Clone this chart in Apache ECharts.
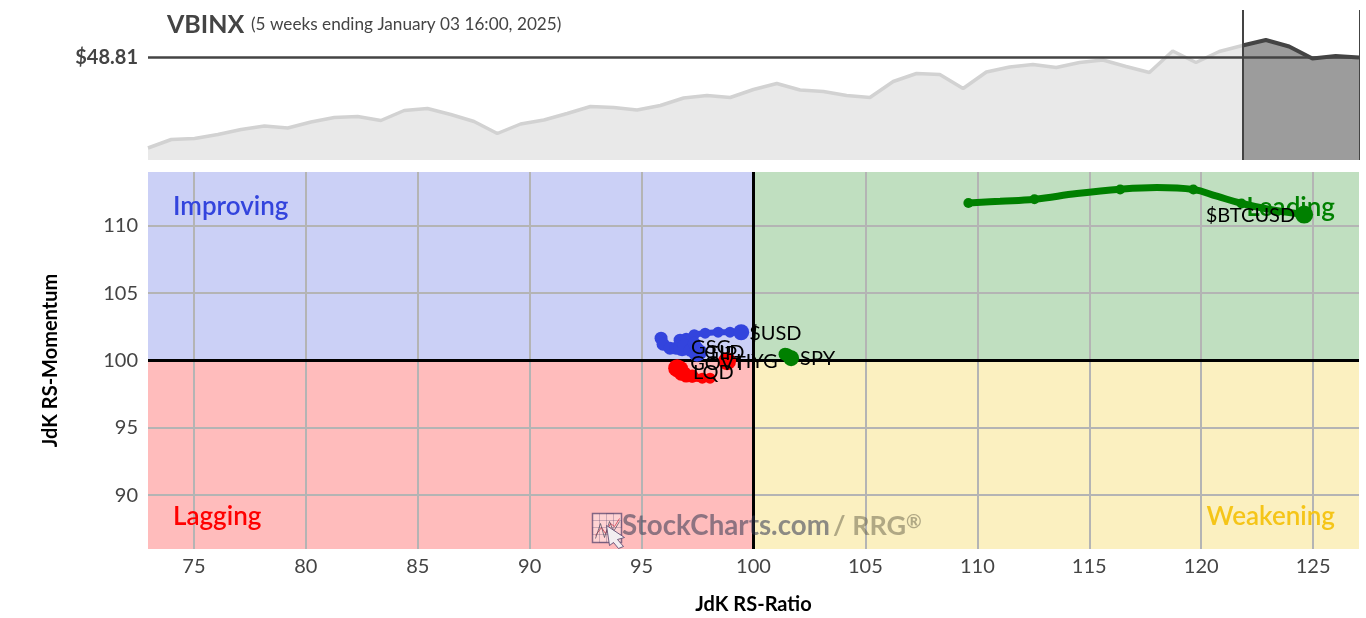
<!DOCTYPE html>
<html><head><meta charset="utf-8">
<style>html,body{margin:0;padding:0;background:#fff}#c{width:1366px;height:618px}</style>
<script src="https://cdn.jsdelivr.net/npm/echarts@6/dist/echarts.min.js"></script>
</head><body><div id="c"></div>
<script>
const priceValues = [47.00,47.17,47.19,47.27,47.37,47.44,47.40,47.52,47.61,47.63,47.55,47.75,47.79,47.67,47.53,47.29,47.48,47.56,47.69,47.83,47.81,47.76,47.85,48.00,48.05,48.01,48.17,48.29,48.16,48.13,48.05,48.01,48.33,48.49,48.47,48.19,48.52,48.62,48.67,48.61,48.71,48.76,48.63,48.51,48.94,48.71,48.93,49.05,49.16,49.03,48.79,48.84,48.81];
const lastPrice = 48.81;
const tailStartIndex = 47;
const xTicks = [75,80,85,90,95,100,105,110,115,120,125];
const yTicks = [90,95,100,105,110];

const btcX = [109.60,112.55,116.38,119.65,121.80,124.60];
const btcY = [111.70,111.98,112.70,112.70,111.66,110.84];
const btcCurveX = [109.60,111.02,112.55,114.45,116.38,118.02,119.66,120.70,121.82,123.08,124.62];
const btcCurveY = [111.70,111.83,111.98,112.40,112.72,112.85,112.70,112.20,111.66,111.21,110.84];
const usdX = [96.99,97.35,97.84,98.42,98.95,99.45];
const usdY = [101.66,101.92,102.03,102.10,102.10,102.10];
const gsgX = [95.87,95.96,96.27,96.54,96.81];
const gsgY = [101.66,101.21,100.91,100.91,100.99];
const tipX = [96.72,96.90,97.17,97.48];
const tipY = [101.51,101.14,100.76,100.54];
const gldX = [97.35,97.48,97.60];
const gldY = [101.28,100.91,100.62];
const hygX = [98.72,98.82];
const hygY = [100.00,99.95];
const govX = [97.26,96.99,96.76,96.63,96.59];
const govY = [98.84,98.84,98.98,99.21,99.43];
const lqdX = [98.06,97.71,97.26,96.95,96.76];
const lqdY = [98.69,98.69,98.76,99.13,99.43];
const spyX = [101.41,101.50,101.59,101.68];
const spyY = [100.47,100.43,100.32,100.17];

const BLUE='#3344dd', RED='#ff0000', GREEN='#008000';
const font='Lato';
const XMIN=72.95,XMAX=127.05,YMIN=86,YMAX=114;

function trail(name,xs,ys,color,opt){
  opt=opt||{};
  const data=xs.map((x,i)=>{
    const last=i===xs.length-1;
    const item={value:[x,ys[i]],symbolSize:last?(opt.head||15):(opt.dot||12)};
    if(last) item.label={show:true,formatter:name,position:opt.pos||'right',distance:opt.dist==null?1:opt.dist,offset:opt.off||[0,0],color:'#000',fontFamily:font,fontSize:20};
    return item;
  });
  return {type:'line',name,xAxisIndex:1,yAxisIndex:1,z:6,smooth:opt.smooth||0.35,symbol:'circle',showSymbol:true,showAllSymbol:true,animation:false,
    lineStyle:{color,width:opt.w==null?8:opt.w},itemStyle:{color,opacity:1},data,clip:true,silent:true};
}
function wm(o){return Object.assign({z:20,silent:true},o);}

const cats=priceValues.map((_,i)=>i);
const chart=echarts.init(document.getElementById('c'),null,{renderer:'canvas'});
chart.setOption({
  animation:false,
  backgroundColor:'#fff',
  textStyle:{fontFamily:font},
  title:[
    {text:'VBINX',left:167,top:12,padding:0,textStyle:{fontFamily:font,fontSize:25,fontWeight:'bold',color:'#444'}},
    {text:'(5 weeks ending January 03 16:00, 2025)',left:251,top:16,padding:0,textStyle:{fontFamily:font,fontSize:17.2,fontWeight:400,color:'#444'}},
    {text:'Improving',left:173,top:194,padding:0,textStyle:{fontFamily:font,fontSize:26,fontWeight:600,color:BLUE}},
    {text:'Leading',right:31,top:195,padding:0,textStyle:{fontFamily:font,fontSize:26,fontWeight:600,color:GREEN}},
    {text:'Lagging',left:173,top:504,padding:0,textStyle:{fontFamily:font,fontSize:26,fontWeight:600,color:RED}},
    {text:'Weakening',right:31,top:504,padding:0,textStyle:{fontFamily:font,fontSize:26,fontWeight:600,color:'#f5c518'}}
  ],
  grid:[
    {left:148,top:10,width:1211,height:150,outerBoundsMode:'none'},
    {left:148,top:172,width:1211,height:377,outerBoundsMode:'none'}
  ],
  xAxis:[
    {gridIndex:0,type:'category',data:cats,boundaryGap:false,axisLine:{show:false},axisTick:{show:false},axisLabel:{show:false},splitLine:{show:false}},
    {gridIndex:1,type:'value',min:XMIN,max:XMAX,z:3,name:'JdK RS-Ratio',nameLocation:'middle',nameGap:46,
     nameTextStyle:{fontFamily:font,fontSize:20,fontWeight:'bold',color:'#000'},
     axisLine:{show:false},axisTick:{show:false,customValues:xTicks},
     axisLabel:{customValues:xTicks,fontFamily:font,fontSize:20,color:'#444',margin:8},
     splitLine:{show:true,lineStyle:{color:'#b4b4b4',width:2}}}
  ],
  yAxis:[
    {gridIndex:0,type:'value',min:46.76,max:49.76,axisLine:{show:false},axisTick:{show:false,customValues:[lastPrice]},
     axisLabel:{customValues:[lastPrice],formatter:v=>'$'+v.toFixed(2),fontFamily:font,fontSize:20,fontWeight:'bold',color:'#444',margin:10},
     splitLine:{show:false}},
    {gridIndex:1,type:'value',min:YMIN,max:YMAX,z:3,name:'JdK RS-Momentum',nameLocation:'middle',nameGap:87,
     nameTextStyle:{fontFamily:font,fontSize:20,fontWeight:'bold',color:'#000'},
     axisLine:{show:false},axisTick:{show:false,customValues:yTicks},
     axisLabel:{customValues:yTicks,fontFamily:font,fontSize:20,color:'#444',margin:10},
     splitLine:{show:true,lineStyle:{color:'#b4b4b4',width:2}}}
  ],
  series:[
    {type:'line',xAxisIndex:0,yAxisIndex:0,z:2,symbol:'none',data:priceValues.map((v,i)=>i<=tailStartIndex?v:null),
     lineStyle:{color:'#d2d2d2',width:3.5},areaStyle:{color:'#e9e9e9',opacity:1},silent:true},
    {type:'line',xAxisIndex:0,yAxisIndex:0,z:3,symbol:'none',data:priceValues.map((v,i)=>i>=tailStartIndex?v:null),
     lineStyle:{color:'#444',width:4},areaStyle:{color:'#9c9c9c',opacity:1},silent:true,
     markLine:{silent:true,symbol:'none',animation:false,label:{show:false},data:[
       {yAxis:lastPrice,lineStyle:{color:'#444',width:2.5,type:'solid'}},
       {xAxis:tailStartIndex,lineStyle:{color:'#444',width:2,type:'solid'}},
       {xAxis:priceValues.length-1,lineStyle:{color:'#444',width:1,type:'solid'}}
     ]}},
    {type:'line',xAxisIndex:1,yAxisIndex:1,z:1,data:[],symbol:'none',silent:true,
     markArea:{silent:true,animation:false,data:[
       [{coord:[XMIN,YMAX],itemStyle:{color:'#cbd0f6',opacity:1}},{coord:[100,100]}],
       [{coord:[100,YMAX],itemStyle:{color:'#c0dfc0',opacity:1}},{coord:[XMAX,100]}],
       [{coord:[XMIN,100],itemStyle:{color:'#ffbcbc',opacity:1}},{coord:[100,YMIN]}],
       [{coord:[100,100],itemStyle:{color:'#fbf0c0',opacity:1}},{coord:[XMAX,YMIN]}]
     ]}},
    {type:'line',xAxisIndex:1,yAxisIndex:1,z:4,data:[],symbol:'none',silent:true,
     markLine:{silent:true,symbol:'none',animation:false,label:{show:false},lineStyle:{color:'#000',width:3,type:'solid'},
       data:[{xAxis:99.98},{yAxis:100}]}},
    {type:'line',xAxisIndex:1,yAxisIndex:1,z:5,symbol:'none',smooth:0.4,silent:true,
     lineStyle:{color:GREEN,width:7},data:btcCurveX.map((x,i)=>[x,btcCurveY[i]])},
    trail('$BTCUSD',btcX,btcY,GREEN,{head:18,dot:10,pos:'left',dist:0,w:0,off:[0,1]}),
    trail('$USD',usdX,usdY,BLUE,{head:16,dot:11,w:6,dist:1,off:[-1,1]}),
    trail('GSG',gsgX,gsgY,BLUE,{head:18,dot:13,dist:0}),
    trail('TIP',tipX,tipY,BLUE,{head:17,dot:13,off:[1,0]}),
    trail('GLD',gldX,gldY,BLUE,{head:15,dot:13,off:[-4,0]}),
    trail('HYG',hygX,hygY,RED,{head:18,dot:12,dist:0}),
    trail('GOVT',govX,govY,RED,{head:18,dot:13,w:9,off:[3,-5]}),
    trail('LQD',lqdX,lqdY,RED,{head:14,dot:11,off:[4,4]}),
    trail('SPY',spyX,spyY,GREEN,{head:16,dot:13,w:6,dist:1})
  ],
  graphic:[
    {type:'group',left:590,top:511,z:20,silent:true,children:[
      wm({type:'rect',shape:{x:0,y:0,width:29,height:29},style:{fill:'rgba(255,255,255,0.35)',stroke:'rgba(90,70,110,0.75)',lineWidth:1.5}}),
      wm({type:'polyline',shape:{points:[[0,7],[29,7],[29,14],[0,14],[0,21],[29,21]]},style:{fill:'none',stroke:'rgba(90,70,110,0.3)',lineWidth:1}}),
      wm({type:'polyline',shape:{points:[[7,0],[7,29],[14,29],[14,0],[21,0],[21,29]]},style:{fill:'none',stroke:'rgba(90,70,110,0.3)',lineWidth:1}}),
      wm({type:'polyline',shape:{points:[[3,22],[9,14],[13,20],[18,10],[22,13],[27,5]]},style:{fill:'none',stroke:'rgba(200,40,60,0.7)',lineWidth:1}}),
      wm({type:'polyline',shape:{points:[[3,25],[8,10],[12,24],[17,8],[21,18],[27,8]]},style:{fill:'none',stroke:'rgba(70,70,90,0.7)',lineWidth:1}}),
      wm({type:'polygon',shape:{points:[[14,12],[32,24],[25,26],[31,33],[26,35],[21,29],[17,32]]},style:{fill:'#f2eef0',stroke:'rgba(90,70,110,0.85)',lineWidth:1}})
    ]},
    wm({type:'text',left:622,top:512,style:{text:'StockCharts.com',fontFamily:font,fontSize:27.7,fontWeight:'bold',fill:'rgba(50,55,80,0.55)'}}),
    wm({type:'text',left:833,top:513,style:{text:'/ RRG',fontFamily:font,fontSize:27,fontWeight:'bold',fill:'rgba(85,80,60,0.45)'}}),
    wm({type:'text',left:906,top:512,style:{text:'®',fontFamily:font,fontSize:19,fontWeight:'bold',fill:'rgba(85,80,60,0.45)'}})
  ]
});
</script></body></html>
